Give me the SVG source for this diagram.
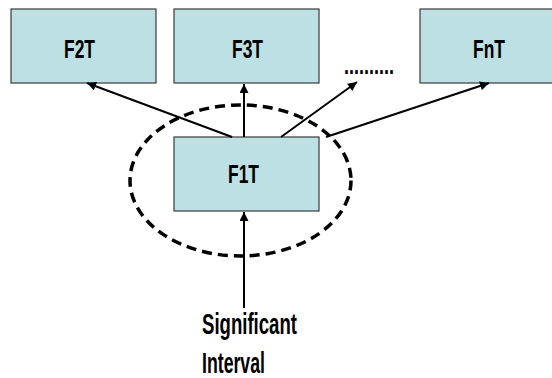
<svg xmlns="http://www.w3.org/2000/svg" width="552" height="378" viewBox="0 0 552 378">
  <defs>
    <marker id="arrow" viewBox="0 0 10 10" refX="10" refY="5" markerWidth="10" markerHeight="9" markerUnits="userSpaceOnUse" orient="auto">
      <path d="M0,0 L10,5 L0,10 Z" fill="#000"/>
    </marker>
    <style>
      .box { fill: #bce0e3; stroke: #3a3a3a; stroke-width: 1.2; }
      .label { font-family: "Liberation Sans", Arial, sans-serif; font-weight: bold; font-size: 25px; fill: #000; }
      .big { font-size: 29px; }
      .edge { stroke: #000; stroke-width: 2; fill: none; marker-end: url(#arrow); }
      .halo { fill: none; stroke: #000; stroke-width: 3.5; stroke-dasharray: 10 6; }
    </style>
  </defs>
  <rect width="552" height="378" fill="#fff"/>

  <g id="F2T">
    <rect class="box" x="11" y="9" width="145" height="74"/>
    <text class="label" x="64" y="58" textLength="31" lengthAdjust="spacingAndGlyphs">F2T</text>
  </g>
  <g id="F3T">
    <rect class="box" x="174" y="9" width="145" height="74"/>
    <text class="label" x="232" y="58" textLength="31" lengthAdjust="spacingAndGlyphs">F3T</text>
  </g>
  <g id="FnT">
    <rect class="box" x="420" y="9" width="145" height="74"/>
    <text class="label" x="473" y="58" textLength="32" lengthAdjust="spacingAndGlyphs">FnT</text>
  </g>
  <g id="ellipsis">
    <text class="label" x="344" y="74" textLength="50" lengthAdjust="spacingAndGlyphs">..........</text>
  </g>

  <ellipse class="halo" cx="240.5" cy="180.5" rx="110.5" ry="75.5"/>

  <g id="F1T">
    <rect class="box" x="174" y="137" width="145" height="74"/>
    <text class="label" x="228" y="183" textLength="31" lengthAdjust="spacingAndGlyphs">F1T</text>
  </g>

  <g id="connectors">
    <line class="edge" x1="232" y1="137" x2="87" y2="83"/>
    <line class="edge" x1="244" y1="137" x2="244" y2="84"/>
    <line class="edge" x1="281" y1="137" x2="357" y2="82"/>
    <line class="edge" x1="326" y1="137" x2="489" y2="83"/>
    <line class="edge" x1="244" y1="308" x2="244" y2="212"/>
  </g>

  <g id="input">
    <text class="label big" x="202" y="334" textLength="95" lengthAdjust="spacingAndGlyphs">Significant</text>
    <text class="label big" x="202" y="373" textLength="63" lengthAdjust="spacingAndGlyphs">Interval</text>
  </g>
</svg>
